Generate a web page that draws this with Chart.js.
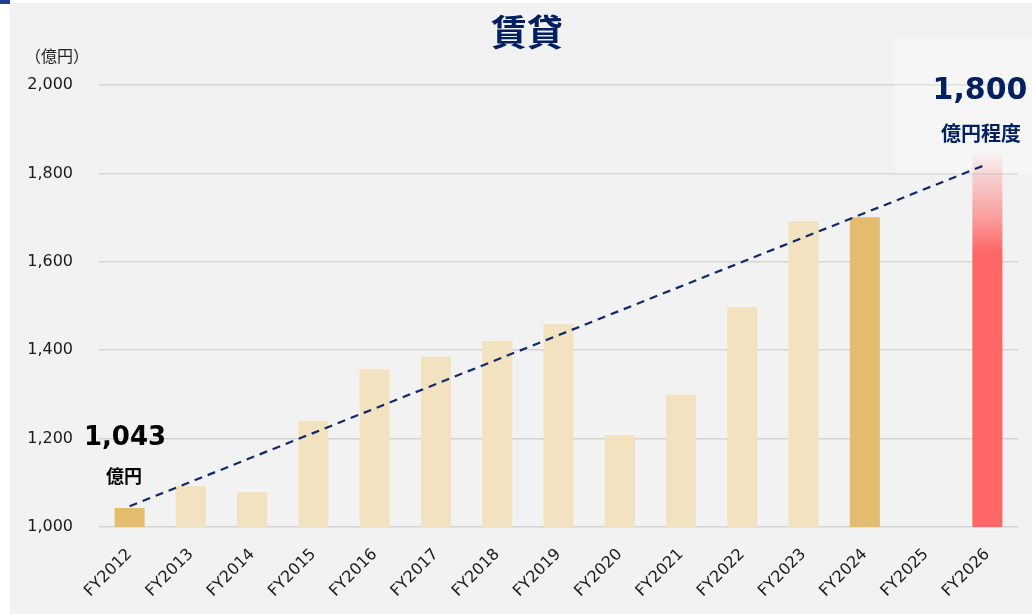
<!DOCTYPE html>
<html>
<head>
<meta charset="utf-8">
<script src="https://cdn.jsdelivr.net/npm/chart.js@4"></script>
<style>
  html, body { margin: 0; padding: 0; background: #fff; }
  #wrap { width: 1032px; height: 614px; }
</style>
</head>
<body>
<div id="wrap"><canvas id="rentChart" width="1032" height="614"></canvas></div>
<script>
// data
const categories = ['FY2012', 'FY2013', 'FY2014', 'FY2015', 'FY2016', 'FY2017', 'FY2018', 'FY2019',
    'FY2020', 'FY2021', 'FY2022', 'FY2023', 'FY2024', 'FY2025', 'FY2026'];
const rentValues = [1043, 1093, 1079, 1240, 1357, 1385, 1421, 1459, 1208, 1299, 1498, 1692, 1701, null, 1845];
const trendValues = [1047, null, null, null, null, null, null, null, null, null, null, null, null, null, 1821];
const yTicks = [1000, 1200, 1400, 1600, 1800, 2000];

const LIGHT = '#f3e2bf';
const DARK = '#e3bc6e';
const RED = '#ff6666';
const NAVY = '#0e2a6b';
const jpFont = '"Noto Sans CJK JP", sans-serif';
const numFont = '"DejaVu Sans", Verdana, sans-serif';

const barColors = categories.map((c, i) => {
    if (i === 0 || c === 'FY2024') return DARK;
    return LIGHT;
});

// background, title and the text labels
const decorations = {
    id: 'decorations',
    beforeDraw(chart) {
        const ctx = chart.ctx;
        ctx.save();
        ctx.fillStyle = '#ffffff';
        ctx.fillRect(0, 0, chart.width, chart.height);
        ctx.fillStyle = '#f2f2f2';
        ctx.fillRect(10, 3, chart.width - 10, chart.height - 3);
        ctx.fillStyle = '#1f3f8f';
        ctx.fillRect(0, 0, 10, 4);
        ctx.restore();
    },
    beforeDatasetsDraw(chart) {
        const ctx = chart.ctx;
        ctx.save();
        ctx.fillStyle = 'rgba(255,255,255,0.3)';
        ctx.fillRect(895, 38, 137, 136);
        ctx.restore();
    },
    afterDraw(chart) {
        const ctx = chart.ctx;
        ctx.save();
        ctx.textBaseline = 'middle';
        ctx.textAlign = 'center';
        // title
        ctx.fillStyle = '#002060';
        ctx.font = 'bold 36px ' + jpFont;
        ctx.fillText('賃貸', 527, 32);
        // unit
        ctx.fillStyle = '#222';
        ctx.font = '16px ' + jpFont;
        ctx.fillText('（億円）', 57, 56);
        // first year label
        ctx.fillStyle = '#000';
        ctx.font = 'bold 26px ' + numFont;
        ctx.fillText('1,043', 125, 438);
        ctx.font = 'bold 18px ' + jpFont;
        ctx.fillText('億円', 124, 476);
        // target label
        ctx.fillStyle = '#002060';
        ctx.font = 'bold 30px ' + numFont;
        ctx.fillText('1,800', 980, 91);
        ctx.font = 'bold 20px ' + jpFont;
        ctx.fillText('億円程度', 981, 133);
        ctx.restore();
    }
};

function redFade(context) {
    const chart = context.chart;
    const y = chart.scales.y;
    if (!y || !chart.chartArea) return RED;
    const g = chart.ctx.createLinearGradient(0, y.getPixelForValue(1620), 0, y.getPixelForValue(1850));
    g.addColorStop(0, 'rgba(255,102,102,1)');
    g.addColorStop(0.35, 'rgba(255,102,102,0.6)');
    g.addColorStop(1, 'rgba(255,102,102,0.02)');
    return g;
}

const ctx = document.getElementById('rentChart').getContext('2d');
new Chart(ctx, {
    type: 'bar',
    data: {
        labels: categories,
        datasets: [
            {
                type: 'line',
                data: trendValues,
                borderColor: NAVY,
                borderWidth: 2.2,
                borderDash: [8, 6],
                pointRadius: 0,
                spanGaps: true,
                fill: false,
                order: 0
            },
            {
                data: rentValues,
                backgroundColor: context => context.dataIndex === 14 ? redFade(context) : barColors[context.dataIndex],
                barPercentage: 0.49,
                categoryPercentage: 1,
                order: 1
            }
        ]
    },
    options: {
        responsive: false,
        animation: false,
        layout: { padding: { top: 85, right: 14, left: 0, bottom: 0 } },
        plugins: {
            legend: { display: false },
            tooltip: { enabled: false },
            title: { display: false }
        },
        scales: {
            x: {
                grid: { display: false },
                border: { display: false },
                ticks: {
                    minRotation: 45,
                    maxRotation: 45,
                    color: '#1a1a1a',
                    font: { family: numFont, size: 16 },
                    padding: 10
                },
                afterFit(scale) { scale.height = 87; }
            },
            y: {
                min: 1000,
                max: 2000,
                afterBuildTicks(scale) { scale.ticks = yTicks.map(v => ({ value: v })); },
                grid: { color: '#d4d4d4', lineWidth: 1.5, drawTicks: false },
                border: { display: false },
                ticks: {
                    color: '#1a1a1a',
                    padding: 26,
                    font: { family: numFont, size: 16 },
                    callback: v => v.toLocaleString('en-US')
                },
                afterFit(scale) { scale.width = 99; }
            }
        }
    },
    plugins: [decorations]
});
</script>
</body>
</html>
